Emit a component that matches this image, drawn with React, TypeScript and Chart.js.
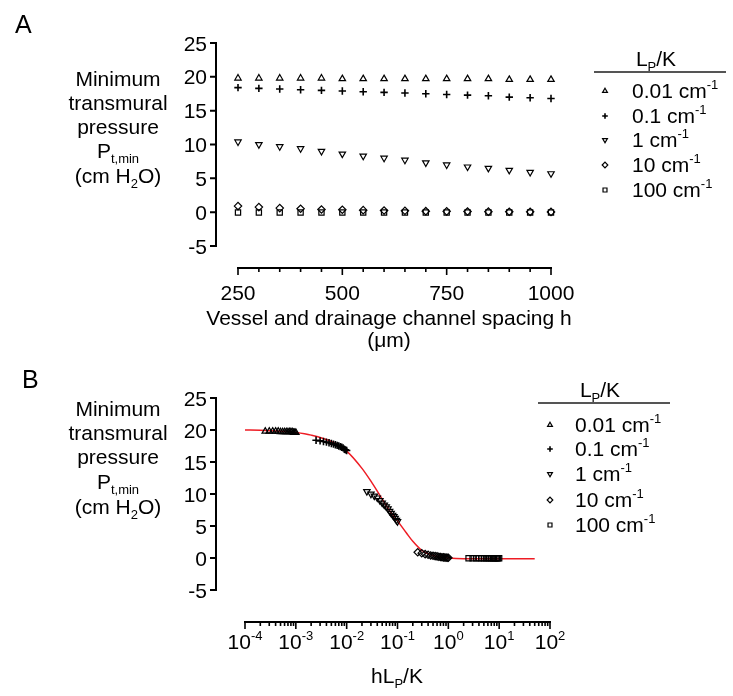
import React, { useEffect, useRef } from 'react';
import { Chart, registerables } from 'chart.js';
import { drawPoint } from 'chart.js/helpers';
Chart.register(...registerables);

const FONT = '"Liberation Sans", Arial, Helvetica, sans-serif';

// ---------- data ----------
const spacingUm = [250, 300, 350, 400, 450, 500, 550, 600, 650, 700, 750, 800, 850, 900, 950, 1000];
const lpKValues = [0.01, 0.1, 1, 10, 100];
const lpKLabels = ['0.01', '0.1', '1', '10', '100'];
const ptMin_001 = [19.8, 19.8, 19.8, 19.8, 19.8, 19.7, 19.7, 19.7, 19.7, 19.7, 19.7, 19.7, 19.7, 19.6, 19.6, 19.6];
const ptMin_01 = [18.4, 18.3, 18.2, 18.1, 18.0, 17.9, 17.8, 17.7, 17.6, 17.5, 17.4, 17.3, 17.2, 17.0, 16.9, 16.8];
const ptMin_1 = [10.4, 10.0, 9.7, 9.4, 9.0, 8.6, 8.3, 8.0, 7.7, 7.3, 7.0, 6.7, 6.5, 6.2, 5.9, 5.7];
const ptMin_10 = [0.9, 0.75, 0.6, 0.5, 0.4, 0.35, 0.3, 0.25, 0.2, 0.15, 0.12, 0.1, 0.08, 0.06, 0.05, 0.04];
const ptMin_100 = [-0.05, -0.05, -0.05, -0.05, -0.05, -0.05, -0.05, -0.05, -0.05, -0.05, -0.05, -0.05, -0.05, -0.05, -0.05, -0.05];
const ptMinSeries = [ptMin_001, ptMin_01, ptMin_1, ptMin_10, ptMin_100];

// fitted curve (panel B)
const fitHLpK = [1e-4, 2e-4, 5e-4, 1e-3, 2e-3, 5e-3, 1e-2, 2e-2, 3e-2, 5e-2, 7e-2, 0.1, 0.15, 0.2, 0.3, 0.5, 0.7, 1, 2, 5, 10, 50];
const fitPtMin = [20.0, 19.95, 19.8, 19.6, 19.2, 18.2, 16.7, 14.0, 12.0, 9.2, 7.4, 5.8, 3.9, 2.6, 1.2, 0.4, 0.15, 0.0, -0.1, -0.1, -0.1, -0.1];

// axes
const yTicks = [-5, 0, 5, 10, 15, 20, 25];
const yMin = -5;
const yMax = 25;
const xTicksA = [250, 500, 750, 1000];
const xMinorStepA = 50;
const xMinA = 250;
const xMaxA = 1000;
const xDecadesB = [-4, -3, -2, -1, 0, 1, 2];

const markerStyles = [
  { pointStyle: 'triangle', rotation: 0, width: 1.2 },
  { pointStyle: 'cross', rotation: 0, width: 1.6 },
  { pointStyle: 'triangle', rotation: 180, width: 1.2 },
  { pointStyle: 'rectRot', rotation: 0, width: 1.2 },
  { pointStyle: 'rect', rotation: 0, width: 1.2 },
];

// ---------- rich text ----------
type Seg = [string, number]; // 0 normal, -1 sub, 1 sup

function drawRich(ctx: CanvasRenderingContext2D, segs: Seg[], x: number, y: number, size: number, align: string) {
  const small = Math.round(size * 0.64);
  const widths = segs.map(([t, k]) => {
    ctx.font = `${k ? small : size}px ${FONT}`;
    return ctx.measureText(t).width;
  });
  const total = widths.reduce((a, b) => a + b, 0);
  let cx = align === 'left' ? x : align === 'right' ? x - total : x - total / 2;
  ctx.textAlign = 'left';
  ctx.textBaseline = 'alphabetic';
  ctx.fillStyle = '#000';
  segs.forEach(([t, k], i) => {
    ctx.font = `${k ? small : size}px ${FONT}`;
    const dy = k === -1 ? size * 0.26 : k === 1 ? -size * 0.42 : 0;
    ctx.fillText(t, cx, y + dy);
    cx += widths[i];
  });
}

const yTitleSegs: Seg[][] = [
  [['Minimum', 0]],
  [['transmural', 0]],
  [['pressure', 0]],
  [['P', 0], ['t,min', -1]],
  [['(cm H', 0], ['2', -1], ['O)', 0]],
];
const legendTitleSegs: Seg[] = [['L', 0], ['P', -1], ['/K', 0]];

interface PanelCfg {
  log: boolean;
  top: number;
  height: number;
  padding: { left: number; right: number; top: number; bottom: number };
  letter: string;
  letterX: number;
  letterY: number;
  yAxisX: number;
  xAxisY: number;
  yTitleX: number;
  yTitleBaselines: number[];
  legTitleX: number;
  legTitleY: number;
  legLineY: number;
  legLineX0: number;
  legLineX1: number;
  legSymX: number;
  legTextX: number;
  legBaselines: number[];
  xTickBaseline: number;
  xTitleX: number;
  xTitleLines: { segs: Seg[]; y: number }[];
}

const panelA: PanelCfg = {
  log: false,
  top: 0,
  height: 360,
  padding: { left: 238, right: 182, top: 43, bottom: 114 },
  letter: 'A',
  letterX: 15,
  letterY: 33,
  yAxisX: 216,
  xAxisY: 268,
  yTitleX: 118,
  yTitleBaselines: [86, 110, 134, 158, 183],
  legTitleX: 656,
  legTitleY: 66,
  legLineY: 72,
  legLineX0: 594,
  legLineX1: 726,
  legSymX: 605,
  legTextX: 632,
  legBaselines: [98, 123, 147, 172, 197],
  xTickBaseline: 300,
  xTitleX: 389,
  xTitleLines: [
    { segs: [['Vessel and drainage channel spacing h', 0]], y: 325 },
    { segs: [['(\u03bcm)', 0]], y: 347 },
  ],
};

const panelB: PanelCfg = {
  log: true,
  top: 348,
  height: 348,
  padding: { left: 245, right: 183, top: 50, bottom: 106 },
  letter: 'B',
  letterX: 22,
  letterY: 40,
  yAxisX: 216,
  xAxisY: 274,
  yTitleX: 118,
  yTitleBaselines: [68, 92, 116, 141, 166],
  legTitleX: 600,
  legTitleY: 49,
  legLineY: 55,
  legLineX0: 538,
  legLineX1: 670,
  legSymX: 550,
  legTextX: 575,
  legBaselines: [84, 108, 133, 159, 184],
  xTickBaseline: 301,
  xTitleX: 397,
  xTitleLines: [{ segs: [['hL', 0], ['P', -1], ['/K', 0]], y: 335 }],
};

function makePlugin(cfg: PanelCfg) {
  return {
    id: 'prismAxes' + cfg.letter,
    afterDraw(chart: any) {
      const ctx: CanvasRenderingContext2D = chart.ctx;
      const xs = chart.scales.x;
      const ys = chart.scales.y;
      ctx.save();
      ctx.strokeStyle = '#000';
      ctx.fillStyle = '#000';
      ctx.lineWidth = 2;
      ctx.lineCap = 'butt';

      // y axis
      const yTop = ys.getPixelForValue(yMax);
      const yBot = ys.getPixelForValue(yMin);
      ctx.beginPath();
      ctx.moveTo(cfg.yAxisX, yTop - 1);
      ctx.lineTo(cfg.yAxisX, yBot + 1);
      yTicks.forEach((v) => {
        const py = ys.getPixelForValue(v);
        ctx.moveTo(cfg.yAxisX + 1, py);
        ctx.lineTo(cfg.yAxisX - 6, py);
      });
      ctx.stroke();
      ctx.font = `21px ${FONT}`;
      ctx.textAlign = 'right';
      ctx.textBaseline = 'alphabetic';
      yTicks.forEach((v) => {
        const py = ys.getPixelForValue(v);
        ctx.fillText(String(v), cfg.yAxisX - 9, py + 7.5);
      });

      // x axis
      const x0 = xs.getPixelForValue(cfg.log ? Math.pow(10, xDecadesB[0]) : xMinA);
      const x1 = xs.getPixelForValue(cfg.log ? Math.pow(10, xDecadesB[xDecadesB.length - 1]) : xMaxA);
      ctx.beginPath();
      ctx.moveTo(x0 - 1, cfg.xAxisY);
      ctx.lineTo(x1 + 1, cfg.xAxisY);
      ctx.stroke();
      ctx.lineWidth = 1.6;
      ctx.beginPath();
      if (!cfg.log) {
        for (let v = xMinA; v <= xMaxA; v += xMinorStepA) {
          const px = xs.getPixelForValue(v);
          const major = xTicksA.indexOf(v) >= 0;
          ctx.moveTo(px, cfg.xAxisY);
          ctx.lineTo(px, cfg.xAxisY + (major ? 7 : 4));
        }
      } else {
        xDecadesB.forEach((d, i) => {
          const base = Math.pow(10, d);
          const px = xs.getPixelForValue(base);
          ctx.moveTo(px, cfg.xAxisY);
          ctx.lineTo(px, cfg.xAxisY + 7);
          if (i < xDecadesB.length - 1) {
            for (let m = 2; m <= 9; m++) {
              const pm = xs.getPixelForValue(base * m);
              ctx.moveTo(pm, cfg.xAxisY);
              ctx.lineTo(pm, cfg.xAxisY + 4);
            }
          }
        });
      }
      ctx.stroke();
      if (!cfg.log) {
        ctx.font = `21px ${FONT}`;
        ctx.textAlign = 'center';
        xTicksA.forEach((v) => ctx.fillText(String(v), xs.getPixelForValue(v), cfg.xTickBaseline));
      } else {
        xDecadesB.forEach((d) => {
          drawRich(ctx, [['10', 0], [String(d), 1]], xs.getPixelForValue(Math.pow(10, d)), cfg.xTickBaseline, 21, 'center');
        });
      }

      // titles
      cfg.xTitleLines.forEach((l) => drawRich(ctx, l.segs, cfg.xTitleX, l.y, 21, 'center'));
      yTitleSegs.forEach((segs, i) => drawRich(ctx, segs, cfg.yTitleX, cfg.yTitleBaselines[i], 21, 'center'));

      // panel letter
      ctx.font = `25px ${FONT}`;
      ctx.textAlign = 'left';
      ctx.fillStyle = '#000';
      ctx.fillText(cfg.letter, cfg.letterX, cfg.letterY);

      // legend
      drawRich(ctx, legendTitleSegs, cfg.legTitleX, cfg.legTitleY, 21, 'center');
      ctx.strokeStyle = '#555';
      ctx.lineWidth = 2;
      ctx.beginPath();
      ctx.moveTo(cfg.legLineX0, cfg.legLineY);
      ctx.lineTo(cfg.legLineX1, cfg.legLineY);
      ctx.stroke();
      lpKLabels.forEach((lab, i) => {
        const by = cfg.legBaselines[i];
        ctx.strokeStyle = '#000';
        ctx.fillStyle = 'rgba(0,0,0,0)';
        ctx.lineWidth = markerStyles[i].width;
        drawPoint(ctx, { pointStyle: markerStyles[i].pointStyle, rotation: markerStyles[i].rotation, radius: 2.8, borderWidth: markerStyles[i].width } as any, cfg.legSymX, by - 7);
        drawRich(ctx, [[lab + ' cm', 0], ['-1', 1]], cfg.legTextX, by, 21, 'left');
      });
      ctx.restore();
    },
  };
}

function buildDatasets(cfg: PanelCfg) {
  const ds: any[] = ptMinSeries.map((series, k) => ({
    label: lpKLabels[k] + ' cm-1',
    data: series.map((v, i) => ({
      x: cfg.log ? spacingUm[i] * 1e-4 * lpKValues[k] : spacingUm[i],
      y: v,
    })),
    pointStyle: markerStyles[k].pointStyle,
    rotation: markerStyles[k].rotation,
    pointRadius: 3.7,
    pointBorderWidth: markerStyles[k].width,
    pointBorderColor: '#000',
    pointBackgroundColor: 'rgba(0,0,0,0)',
    showLine: false,
    clip: false,
  }));
  if (cfg.log) {
    ds.push({
      label: 'fit',
      type: 'line',
      data: fitHLpK.map((x, i) => ({ x, y: fitPtMin[i] })),
      borderColor: '#ee1c24',
      borderWidth: 1.5,
      pointRadius: 0,
      showLine: true,
      fill: false,
      cubicInterpolationMode: 'monotone',
      clip: false,
    });
  }
  return ds;
}

function Panel({ cfg }: { cfg: PanelCfg }) {
  const ref = useRef<HTMLCanvasElement>(null);
  useEffect(() => {
    if (!ref.current) return;
    const chart = new Chart(ref.current, {
      type: 'scatter',
      data: { datasets: buildDatasets(cfg) },
      options: {
        responsive: false,
        animation: false,
        events: [],
        layout: { padding: cfg.padding },
        plugins: { legend: { display: false }, tooltip: { enabled: false }, title: { display: false } },
        scales: {
          x: cfg.log
            ? { type: 'logarithmic', min: Math.pow(10, xDecadesB[0]), max: Math.pow(10, xDecadesB[xDecadesB.length - 1]), display: false }
            : { type: 'linear', min: xMinA, max: xMaxA, display: false },
          y: { type: 'linear', min: yMin, max: yMax, display: false },
        },
      } as any,
      plugins: [makePlugin(cfg)],
    });
    return () => chart.destroy();
  }, []);
  return (
    <canvas
      ref={ref}
      width={733}
      height={cfg.height}
      style={{ position: 'absolute', left: 0, top: cfg.top, width: 733, height: cfg.height, display: 'block' }}
    />
  );
}

export default function App() {
  return (
    <div style={{ position: 'absolute', left: 0, top: 0, width: 733, height: 696, background: '#fff' }}>
      <Panel cfg={panelA} />
      <Panel cfg={panelB} />
    </div>
  );
}
